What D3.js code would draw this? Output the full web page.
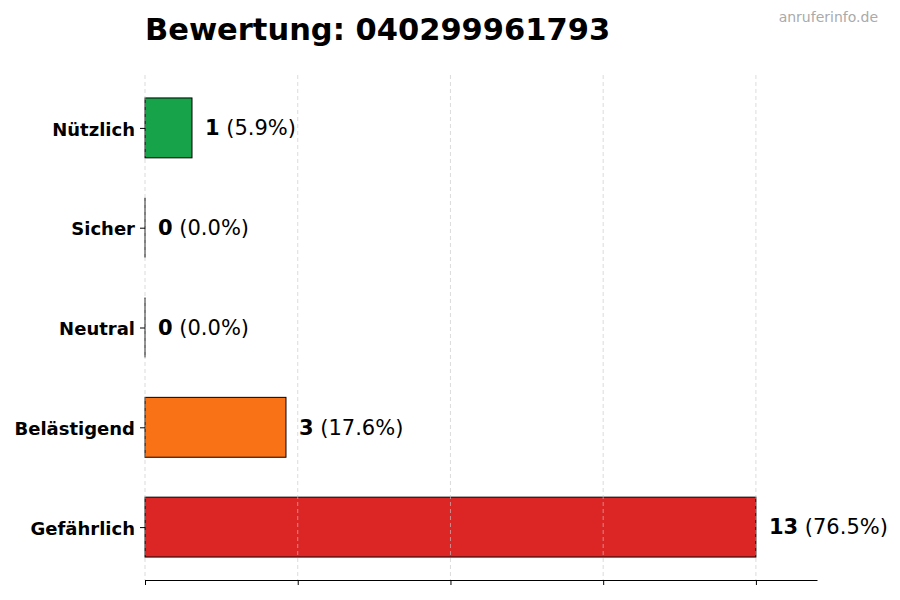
<!DOCTYPE html>
<html>
<head>
<meta charset="utf-8">
<script src="https://cdn.jsdelivr.net/npm/d3@7"></script>
<style>
  body { margin: 0; background: #fff; }
  svg { font-family: "DejaVu Sans", sans-serif; }
</style>
</head>
<body>
<div id="chart"></div>
<script>
const categories = ["Nützlich", "Sicher", "Neutral", "Belästigend", "Gefährlich"];
const counts = [1, 0, 0, 3, 13];
const percents = ["5.9%", "0.0%", "0.0%", "17.6%", "76.5%"];
const colors = ["#16a34a", "#9ca3af", "#6b7280", "#f97316", "#dc2626"];

const width = 900, height = 600;
const margin = {top: 75, right: 83, bottom: 20, left: 145};
const maxVal = d3.max(counts);

const svg = d3.select("#chart").append("svg")
  .attr("width", width)
  .attr("height", height);

const x = d3.scaleLinear()
  .domain([0, maxVal * 1.1])
  .range([margin.left, width - margin.right]);

// matplotlib-style: bars of height 0.6 with 5% margins
const y = d3.scaleLinear()
  .domain([-0.53, categories.length - 1 + 0.53])
  .range([margin.top, height - margin.bottom]);

const tickVals = d3.range(0, 5).map(i => i * maxVal / 4);

// bars
svg.append("g")
  .selectAll("rect")
  .data(counts)
  .enter().append("rect")
  .attr("x", x(0))
  .attr("y", (d, i) => y(i - 0.3))
  .attr("width", d => x(d) - x(0))
  .attr("height", y(0.3) - y(-0.3))
  .attr("fill", (d, i) => colors[i])
  .attr("stroke", "#000")
  .attr("stroke-width", 1);

// zero-width bars still show their edge
svg.append("g")
  .selectAll("line")
  .data(counts.map((d, i) => ({d, i})).filter(o => o.d === 0))
  .enter().append("line")
  .attr("x1", x(0)).attr("x2", x(0))
  .attr("y1", o => y(o.i - 0.3)).attr("y2", o => y(o.i + 0.3))
  .attr("stroke", "#000")
  .attr("stroke-width", 1);

// grid (on top, faint)
svg.append("g")
  .selectAll("line")
  .data(tickVals)
  .enter().append("line")
  .attr("x1", d => x(d)).attr("x2", d => x(d))
  .attr("y1", margin.top).attr("y2", height - margin.bottom)
  .attr("stroke", "#c8c8c8")
  .attr("stroke-opacity", 0.8)
  .attr("stroke-dasharray", "4,3")
  .attr("stroke-width", 0.8);

// value labels
const labels = svg.append("g")
  .selectAll("text")
  .data(counts)
  .enter().append("text")
  .attr("x", d => x(d) + 13)
  .attr("y", (d, i) => y(i))
  .attr("dy", "0.35em")
  .attr("font-size", 21)
  .attr("fill", "#000");
labels.append("tspan").attr("font-weight", "bold").text(d => d);
labels.append("tspan").text((d, i) => " (" + percents[i] + ")");

// x axis
const xAxis = svg.append("g")
  .attr("transform", `translate(0,${height - margin.bottom})`)
  .call(d3.axisBottom(x).tickValues(tickVals).tickFormat("").tickSize(5).tickSizeOuter(0));
xAxis.select(".domain").attr("stroke", "#000").attr("stroke-width", 1.2);
xAxis.selectAll(".tick line").attr("stroke", "#000");

// y axis
const yAxis = svg.append("g")
  .attr("transform", `translate(${margin.left},0)`)
  .call(d3.axisLeft(y).tickValues(d3.range(categories.length)).tickFormat(i => categories[i]).tickSize(5).tickPadding(5));
yAxis.select(".domain").remove();
yAxis.selectAll(".tick line").attr("stroke", "#000");
yAxis.selectAll(".tick text")
  .attr("font-family", "DejaVu Sans, sans-serif")
  .attr("font-size", 18)
  .attr("font-weight", "bold")
  .attr("dy", "0.4em")
  .attr("fill", "#000");

// title
svg.append("text")
  .attr("x", margin.left)
  .attr("y", 40)
  .attr("font-size", 30.5)
  .attr("font-weight", "bold")
  .attr("fill", "#000")
  .text("Bewertung: 040299961793");

svg.append("text")
  .attr("x", 878)
  .attr("y", 22)
  .attr("text-anchor", "end")
  .attr("font-size", 14)
  .attr("fill", "#aaa")
  .text("anruferinfo.de");
</script>
</body>
</html>
